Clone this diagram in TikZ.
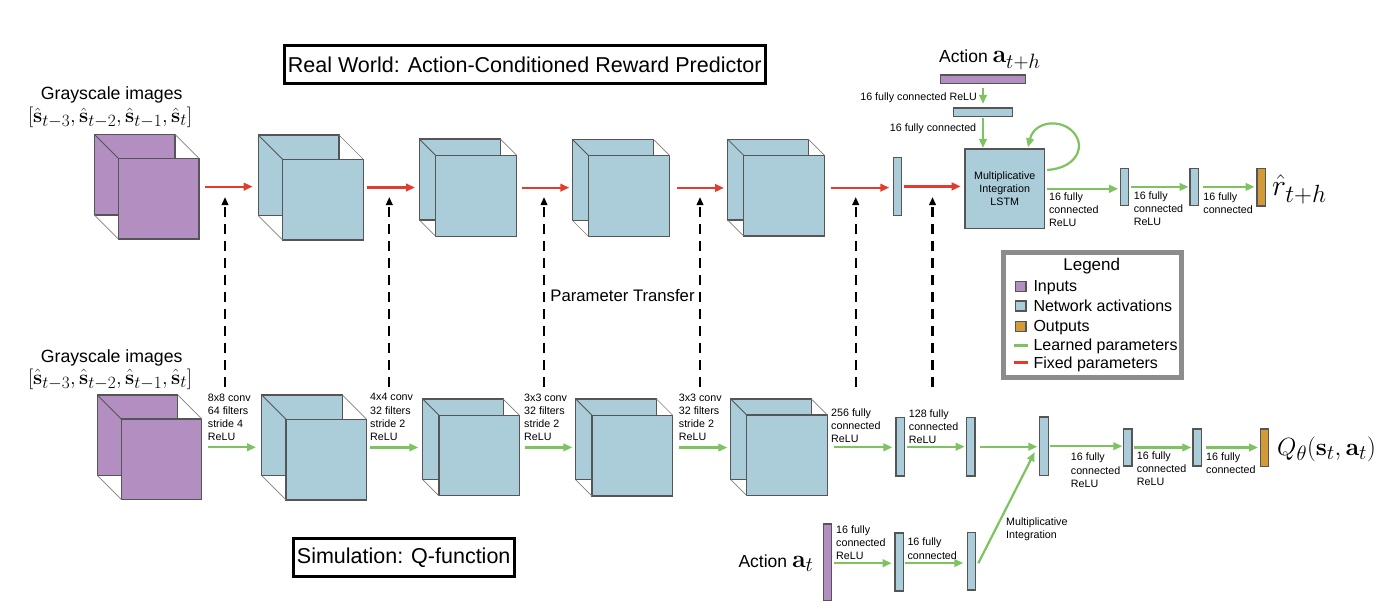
\documentclass[tikz,border=0pt]{standalone}
\usepackage[no-math]{fontspec}
\setmainfont{Liberation Sans}
\usetikzlibrary{arrows.meta}
\definecolor{cpurple}{HTML}{B28EC1}
\definecolor{cblue}{HTML}{ABCDD9}
\definecolor{corange}{HTML}{D39A37}
\definecolor{cgreen}{HTML}{7DC35F}
\definecolor{cred}{HTML}{E33B2E}
\definecolor{cedge}{HTML}{555555}
\definecolor{clegend}{HTML}{8C8C8C}
\tikzset{
 garrow/.style={draw=cgreen, line width=2.2pt, -{Triangle[length=9pt,width=7.5pt]}},
 rarrow/.style={draw=cred, line width=2.2pt, -{Triangle[length=9pt,width=7.5pt]}},
 darrow/.style={draw=black, line width=2.2pt, dash pattern=on 10pt off 7pt, -{Triangle[length=8pt,width=6.5pt]}},
 bar/.style={draw=cedge, line width=1.3pt, inner sep=0pt, outer sep=0pt},
 cubeedge/.style={draw=cedge, line width=1.3pt},
 diag/.style={draw=cedge, line width=0.8pt},
 diagl/.style={draw=gray, line width=0.7pt},
 lbl/.style={align=left, inner sep=0pt, anchor=north west, font=\fontsize{10.7}{13.3}\selectfont},
 titlebox/.style={draw=black, line width=3pt, inner sep=0pt, font=\fontsize{21.5}{24}\selectfont},
 bigtxt/.style={inner sep=0pt, font=\fontsize{17.7}{20}\selectfont},
 legtxt/.style={inner sep=0pt, anchor=base west, font=\fontsize{16}{19}\selectfont},
 mathbig/.style={inner sep=0pt, font=\fontsize{24.88}{28}\selectfont},
}
\newcommand{\mycube}[6]{%
 \node[inner sep=0pt, outer sep=0pt, minimum width={#4+#5}, minimum height={#4+#5}, anchor=north west] (#1) at (#2,#3) {};
 \draw[cubeedge, fill=#6] (#2,#3) rectangle ++(#4,#4);
 \draw[cubeedge, fill=#6] (#2+#5,#3+#5) rectangle ++(#4,#4);
 \draw[diag] (#2,#3) -- ++(#5,#5);
 \draw[diagl] (#2+#4,#3) -- ++(#5,#5);
 \draw[diagl] (#2,#3+#4) -- ++(#5,#5);
}
\begin{document}
\begin{tikzpicture}[x=1pt,y=-1pt]
\fill[white] (0,0) rectangle (1388,608);
\useasboundingbox (0,0) rectangle (1388,608);

% titles
\node[titlebox, minimum width=481, minimum height=38] (ttop) at (524.7,64.5) {Real World: Action-Conditioned Reward Predictor};
\node[titlebox, minimum width=221, minimum height=38.6] (tbot) at (403.7,557.5) {Simulation: Q-function};

% input captions
\node[bigtxt, anchor=base] (gtop) at (111.7,99.6) {Grayscale images};
\node[mathbig, anchor=base] (ftop) at (110,122.5) {\scalebox{0.83}{$[\hat{\mathbf{s}}_{t-3},\hat{\mathbf{s}}_{t-2},\hat{\mathbf{s}}_{t-1},\hat{\mathbf{s}}_{t}]$}};
\node[bigtxt, anchor=base] (gbot) at (111.7,362) {Grayscale images};
\node[mathbig, anchor=base] (fbot) at (110,384.2) {\scalebox{0.83}{$[\hat{\mathbf{s}}_{t-3},\hat{\mathbf{s}}_{t-2},\hat{\mathbf{s}}_{t-1},\hat{\mathbf{s}}_{t}]$}};

% cubes
\mycube{T1}{94.3}{134.3}{80.7}{24}{cpurple}
\mycube{T2}{258.3}{135}{80.7}{24.3}{cblue}
\mycube{T3}{419.3}{139}{81}{16.3}{cblue}
\mycube{T4}{572.3}{139.3}{81}{16.3}{cblue}
\mycube{T5}{727.7}{139.3}{80.7}{16}{cblue}
\mycube{B1}{97.3}{395}{80.5}{24}{cpurple}
\mycube{B2}{261.7}{395}{80.6}{24.3}{cblue}
\mycube{B3}{422.7}{399}{80.5}{16.3}{cblue}
\mycube{B4}{575.7}{399}{80.8}{16.3}{cblue}
\mycube{B5}{730.7}{399}{80.6}{16}{cblue}

% top bars
\node[bar, fill=cpurple, minimum width=85.5, minimum height=8.7] (pa) at (983,79.3) {};
\node[bar, fill=cblue, minimum width=59, minimum height=8.7] (sb) at (983,112.3) {};
\node[bar, fill=cblue, minimum width=8.3, minimum height=58] (tb) at (897.3,186.4) {};
\node[bar, fill=cblue, minimum width=79.4, minimum height=79.7, align=center, font=\fontsize{10.7}{13.3}\selectfont] (lstm) at (1004.7,188.8) {Multiplicative\\Integration\\LSTM};
\node[bar, fill=cblue, minimum width=8, minimum height=37] (t2) at (1124.7,186.9) {};
\node[bar, fill=cblue, minimum width=8.7, minimum height=37] (t3) at (1194.3,186.9) {};
\node[bar, fill=corange, minimum width=8.7, minimum height=37.4] (tout) at (1261.4,187.3) {};

% bottom bars
\node[bar, fill=cblue, minimum width=8.7, minimum height=58.7] (b1) at (900.3,446.7) {};
\node[bar, fill=cblue, minimum width=8.7, minimum height=58.7] (b2) at (970.7,446.7) {};
\node[bar, fill=cblue, minimum width=8.7, minimum height=58.4] (b3) at (1044,446.2) {};
\node[bar, fill=cblue, minimum width=8.4, minimum height=37] (b4) at (1127.8,447.5) {};
\node[bar, fill=cblue, minimum width=8.7, minimum height=37] (b5) at (1197.3,447.5) {};
\node[bar, fill=corange, minimum width=8, minimum height=37.7] (bout) at (1264.7,447.8) {};
\node[bar, fill=cpurple, minimum width=8.3, minimum height=76.4] (pb) at (827.5,562.2) {};
\node[bar, fill=cblue, minimum width=8.4, minimum height=58] (ab1) at (899.2,562) {};
\node[bar, fill=cblue, minimum width=8, minimum height=57.7] (ab2) at (971.3,561.2) {};

% top red arrows
\draw[rarrow] ([xshift=6pt]T1.east) -- ([xshift=-5.6pt]T1.east -| T2.west);
\draw[rarrow] ([xshift=3.7pt]T2.east) -- ([xshift=-4.3pt]T2.east -| T3.west);
\draw[rarrow] ([xshift=5pt]T3.east) -- ([xshift=-3pt]T3.east -| T4.west);
\draw[rarrow] ([xshift=7pt]T4.east) -- ([xshift=-3.7pt]T4.east -| T5.west);
\draw[rarrow] ([xshift=6.4pt]T5.east) -- ([xshift=-3.9pt]T5.east -| tb.west);
\draw[rarrow] ([xshift=2.5pt]tb.east) -- ([xshift=-4.3pt]tb.east -| lstm.west);

% top green arrows
\draw[garrow] ([yshift=-4pt]pa.south) -- ([yshift=4pt]sb.north);
\draw[garrow] ([yshift=-1pt]sb.south) -- ([yshift=1pt]sb.south |- lstm.north);
\draw[garrow] ([xshift=3pt]lstm.east) -- ([xshift=-2.5pt]lstm.east -| t2.west);
\draw[garrow] ([xshift=2.7pt]t2.east) -- ([xshift=-1.4pt]t2.east -| t3.west);
\draw[garrow] ([xshift=4.6pt]t3.east) -- ([xshift=-2.5pt]t3.east -| tout.west);
\draw[garrow] ([xshift=2.8pt,yshift=18.8pt]lstm.east) .. controls (1075,168) and (1082,150) .. (1078,140) .. controls (1070,118) and (1035,118) .. ([xshift=23.3pt,yshift=1.6pt]lstm.north);

% bottom green arrows
\draw[garrow] ([xshift=6.3pt]B1.east) -- ([xshift=-5.7pt]B1.east -| B2.west);
\draw[garrow] ([xshift=3.3pt]B2.east) -- ([xshift=-4.4pt]B2.east -| B3.west);
\draw[garrow] ([xshift=5pt]B3.east) -- ([xshift=-3.4pt]B3.east -| B4.west);
\draw[garrow] ([xshift=6.6pt]B4.east) -- ([xshift=-3.4pt]B4.east -| B5.west);
\draw[garrow] ([xshift=6.7pt]B5.east) -- ([xshift=-3.6pt]B5.east -| b1.west);
\draw[garrow] ([xshift=2pt]b1.east) -- ([xshift=-1.7pt]b1.east -| b2.west);
\draw[garrow] ([xshift=5pt]b2.east) -- ([xshift=-2.3pt]b2.east -| b3.west);
\draw[garrow] ([xshift=2pt]b3.east) -- ([xshift=-1.3pt]b3.east -| b4.west);
\draw[garrow] ([xshift=2.3pt]b4.east) -- ([xshift=-1.6pt]b4.east -| b5.west);
\draw[garrow] ([xshift=4.4pt]b5.east) -- ([xshift=-2.7pt]b5.east -| bout.west);
\draw[garrow] ([xshift=2.7pt,yshift=-1pt]pb.east) -- ([xshift=-3.3pt,yshift=-1pt]pb.east -| ab1.west);
\draw[garrow] ([xshift=2pt,yshift=-1pt]ab1.east) -- ([xshift=-4pt,yshift=-1pt]ab1.east -| ab2.west);
\draw[garrow] ([xshift=3pt,yshift=-2pt]ab2.east) -- ([xshift=-5pt,yshift=-6pt]b3.west);

% dashed parameter-transfer arrows
\foreach \i/\x in {1/225,2/389.3,3/544,4/700,5/855.7,6/932.5}{
  \coordinate (d\i b) at (\x,387);
  \coordinate (d\i t) at (\x,197);
  \draw[darrow] (d\i b) -- (d\i t);
}
\node[anchor=base, inner sep=0pt, font=\fontsize{16.7}{19}\selectfont] (ptr) at (622.5,301) {Parameter Transfer};

% labels bottom
\node[lbl] (l1) at (207.7,393.4) {8x8 conv\\64 filters\\stride 4\\ReLU};
\node[lbl] (l2) at (370,393.4) {4x4 conv\\32 filters\\stride 2\\ReLU};
\node[lbl] (l3) at (524,393.4) {3x3 conv\\32 filters\\stride 2\\ReLU};
\node[lbl] (l4) at (678.7,393.4) {3x3 conv\\32 filters\\stride 2\\ReLU};
\node[lbl] (l5) at (831,408.4) {256 fully\\connected\\ReLU};
\node[lbl] (l6) at (908.7,409.4) {128 fully\\connected\\ReLU};
\node[lbl] (l7) at (1070.7,452.8) {16 fully\\connected\\ReLU};
\node[lbl] (l8) at (1136.7,451.1) {16 fully\\connected\\ReLU};
\node[lbl] (l9) at (1206,452.1) {16 fully\\connected};
\node[lbl] (l10) at (1006,517.1) {Multiplicative\\Integration};
\node[lbl] (l11) at (836,525.1) {16 fully\\connected\\ReLU};
\node[lbl] (l12) at (907.3,537.8) {16 fully\\connected};

% labels top
\node[lbl, anchor=base east] (tl1) at (977.1,100.6) {16 fully connected ReLU};
\node[lbl, anchor=base east] (tl2) at (976.4,131.2) {16 fully connected};
\node[lbl] (tl3) at (1048.9,192.1) {16 fully\\connected\\ReLU};
\node[lbl] (tl4) at (1133.6,191.1) {16 fully\\connected\\ReLU};
\node[lbl] (tl5) at (1203.2,192.1) {16 fully\\connected};

% action / output captions
\node[anchor=base west, inner sep=0pt, font=\fontsize{17.5}{20}\selectfont] (acttop) at (938.9,62.9) {Action {\fontsize{24.88}{28}\selectfont$\mathbf{a}_{t+h}$}};
\node[anchor=base west, inner sep=0pt, font=\fontsize{17.5}{20}\selectfont] (actbot) at (738.3,567) {Action {\fontsize{24.88}{28}\selectfont$\mathbf{a}_{t}$}};
\node[mathbig, anchor=base west] (rhat) at (1272,195) {\scalebox{1.2}{$\hat{r}_{t+h}$}};
\node[mathbig, anchor=base west] (qval) at (1277,455) {$Q_\theta(\mathbf{s}_t,\mathbf{a}_t)$};

% legend
\node[draw=clegend, line width=5pt, fill=white, minimum width=178.3, minimum height=125, inner sep=0pt] (legend) at (1092.65,315) {};
\node[anchor=base, inner sep=0pt, font=\fontsize{17}{20}\selectfont] (lgt) at (1091.7,270.3) {Legend};
\node[bar, fill=cpurple, minimum width=10.4, minimum height=10] (lg1) at (1020.8,286.3) {};
\node[bar, fill=cblue, minimum width=10.4, minimum height=10] (lg2) at (1020.8,306) {};
\node[bar, fill=corange, minimum width=10.4, minimum height=10] (lg3) at (1020.8,326.3) {};
\node[fill=cgreen, inner sep=0pt, minimum width=13.7, minimum height=3] (lg4) at (1020.8,345) {};
\node[fill=cred, inner sep=0pt, minimum width=13.7, minimum height=3] (lg5) at (1020.8,362.7) {};
\node[legtxt] (lgt1) at (1033.3,291.4) {Inputs};
\node[legtxt] (lgt2) at (1033.3,311.4) {Network activations};
\node[legtxt] (lgt3) at (1033.3,331.7) {Outputs};
\node[legtxt] (lgt4) at (1033.3,350.7) {Learned parameters};
\node[legtxt] (lgt5) at (1033.3,368.4) {Fixed parameters};
\end{tikzpicture}
\end{document}
